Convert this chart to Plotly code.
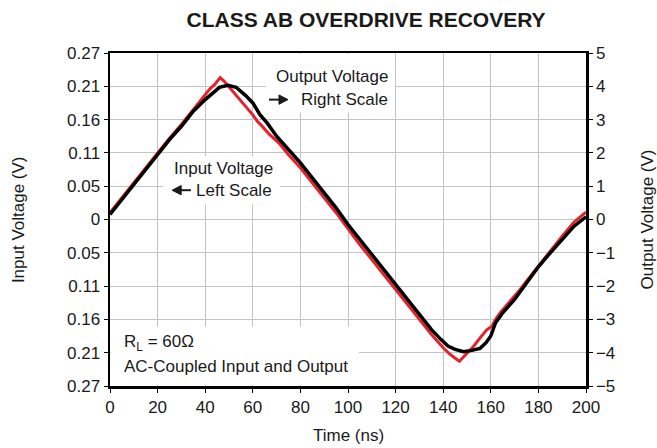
import plotly.graph_objects as go

# ---------------- data ----------------
time_out = [0, 5, 10, 15, 20, 25, 30, 35, 40, 43, 46, 49.5, 53, 57, 60, 63, 66, 70, 75, 80,
            85, 90, 95, 100, 105, 110, 115, 120, 125, 130, 135, 139, 142, 145, 148.5, 152,
            155.5, 158, 160, 162, 165, 170, 175, 180, 185, 190, 195, 200]
output_v = [0.15, 0.6, 1.05, 1.5, 1.97, 2.4, 2.8, 3.25, 3.6, 3.8, 3.97, 4.03, 3.97, 3.72, 3.5,
            3.15, 2.9, 2.5, 2.1, 1.7, 1.25, 0.8, 0.35, -0.15, -0.6, -1.05, -1.5, -1.95, -2.4,
            -2.82, -3.3, -3.6, -3.8, -3.9, -3.97, -3.93, -3.87, -3.7, -3.5, -3.1, -2.8, -2.4,
            -1.9, -1.42, -1.0, -0.58, -0.2, 0.08]

time_in = [0, 5, 10, 15, 20, 25, 30, 35, 40, 42, 44, 46.3, 48, 50.6, 53, 55.3, 57.5, 59.5, 62,
           64, 67, 71, 75, 80, 85, 90, 95, 100, 105, 110, 115, 120, 125, 130, 135, 140, 143,
           146.8, 150, 152.7, 155.5, 158.3, 160.5, 162, 164, 168, 172, 176, 180, 185, 190, 195, 200]
input_v = [0.011, 0.035, 0.059, 0.084, 0.108, 0.132, 0.154, 0.178, 0.201, 0.212, 0.219, 0.230,
           0.224, 0.212, 0.200, 0.191, 0.181, 0.172, 0.159, 0.151, 0.138, 0.124, 0.105, 0.084,
           0.059, 0.035, 0.011, -0.016, -0.041, -0.065, -0.089, -0.113, -0.138, -0.162, -0.186,
           -0.208, -0.219, -0.230, -0.217, -0.206, -0.192, -0.179, -0.173, -0.162, -0.151,
           -0.133, -0.115, -0.095, -0.075, -0.051, -0.027, -0.004, 0.012]

left_tickvals = [-0.27, -0.216, -0.162, -0.108, -0.054, 0, 0.054, 0.108, 0.162, 0.216, 0.27]
left_ticktext = ["0.27", "0.21", "0.16", "0.11", "0.05", "0", "0.05", "0.11", "0.16", "0.21", "0.27"]
x_ticks = [0, 20, 40, 60, 80, 100, 120, 140, 160, 180, 200]
right_ticks = [-5, -4, -3, -2, -1, 0, 1, 2, 3, 4, 5]

FONT = "Liberation Sans, Arial, Helvetica, sans-serif"
TXT = "#1a1a1a"
GRID = "#c4c4c4"

fig = go.Figure()
fig.add_trace(go.Scatter(x=time_in, y=input_v, mode="lines", name="Input Voltage",
                         line=dict(color="#e8202a", width=3), yaxis="y"))
fig.add_trace(go.Scatter(x=time_out, y=output_v, mode="lines", name="Output Voltage",
                         line=dict(color="#000000", width=3.5), yaxis="y2"))

# white boxes behind the in-plot labels (they do not overlap the traces)
boxes = [(65.5, 119.7, 3.22, 4.97), (22.3, 71.4, 0.46, 1.9), (0.4, 104.6, -4.96, -3.23)]
for x0, x1, y0, y1 in boxes:
    fig.add_shape(type="rect", xref="x", yref="y2", x0=x0, x1=x1, y0=y0, y1=y1,
                  fillcolor="white", line=dict(width=0), layer="above")

# pointer arrows (shaft + filled head)
arrows = [  # (shaft x0, shaft x1, head base x, tip x, y)
    (66.8, 72.0, 71.0, 74.8, 3.60),
    (34.0, 29.0, 29.9, 26.1, 0.88),
]
for sx0, sx1, hb, tip, y in arrows:
    fig.add_shape(type="line", xref="x", yref="y2", x0=sx0, x1=sx1, y0=y, y1=y,
                  line=dict(color=TXT, width=2), layer="above")
    fig.add_shape(type="path", xref="x", yref="y2",
                  path=f"M {hb},{y - 0.14} L {tip},{y} L {hb},{y + 0.14} Z",
                  fillcolor=TXT, line=dict(color=TXT, width=1), layer="above")

ann_font = dict(family=FONT, size=17, color=TXT)
labels = [
    ("Output Voltage", 117.6, 4.28, "right"),
    ("Right Scale", 117.6, 3.60, "right"),
    ("Input Voltage", 47.5, 1.53, "center"),
    ("Left Scale", 68.9, 0.88, "right"),
    ("R<sub>L</sub> = 60\u03a9", 5.0, -3.70, "left"),
    ("AC-Coupled Input and Output", 5.0, -4.41, "left"),
]
for text, x, y, anchor in labels:
    fig.add_annotation(text=text, x=x, y=y, xref="x", yref="y2", xanchor=anchor,
                       yanchor="middle", showarrow=False, font=ann_font)

# axis titles
title_font = dict(family=FONT, size=17, color=TXT)
fig.add_annotation(text="Input Voltage (V)", xref="paper", yref="paper", x=-0.192, y=0.5,
                   textangle=-90, showarrow=False, font=title_font, xanchor="center", yanchor="middle")
fig.add_annotation(text="Output Voltage (V)", xref="paper", yref="paper", x=1.130, y=0.5,
                   textangle=-90, showarrow=False, font=title_font, xanchor="center", yanchor="middle")
fig.add_annotation(text="Time (ns)", xref="paper", yref="paper", x=0.5, y=-0.150,
                   showarrow=False, font=title_font, xanchor="center", yanchor="middle")

tick_font = dict(family=FONT, size=17, color=TXT)
fig.update_layout(
    width=657, height=448,
    margin=dict(l=110, r=71, t=53, b=62, autoexpand=False),
    paper_bgcolor="white", plot_bgcolor="white",
    showlegend=False,
    title=dict(text="<b>CLASS AB OVERDRIVE RECOVERY</b>", xref="paper", x=0.538,
               xanchor="center", yref="container", y=0.957, yanchor="middle",
               font=dict(family=FONT, size=21, color=TXT)),
    xaxis=dict(range=[0, 200], tickvals=x_ticks, showgrid=True, gridcolor=GRID, gridwidth=1,
               showline=True, linecolor="black", linewidth=2.5, mirror=True,
               ticks="outside", ticklen=4, tickcolor="black", tickfont=tick_font,
               zeroline=False, automargin=False),
    yaxis=dict(range=[-0.27, 0.27], tickvals=left_tickvals, ticktext=left_ticktext,
               showgrid=True, gridcolor=GRID, gridwidth=1,
               showline=True, linecolor="black", linewidth=2.5, mirror=True,
               ticks="outside", ticklen=4, tickcolor="black", tickfont=tick_font,
               zeroline=False, automargin=False),
    yaxis2=dict(range=[-5, 5], tickvals=right_ticks, overlaying="y", side="right",
                showgrid=False, showline=True, linecolor="black", linewidth=2.5,
                ticks="outside", ticklen=4, tickcolor="black", tickfont=tick_font,
                zeroline=False, automargin=False),
)

fig.write_html(
    "out.html",
    config={"displayModeBar": False, "staticPlot": True},
    post_script="document.body.style.margin='0';document.body.style.padding='0';"
                "document.documentElement.style.margin='0';",
)
